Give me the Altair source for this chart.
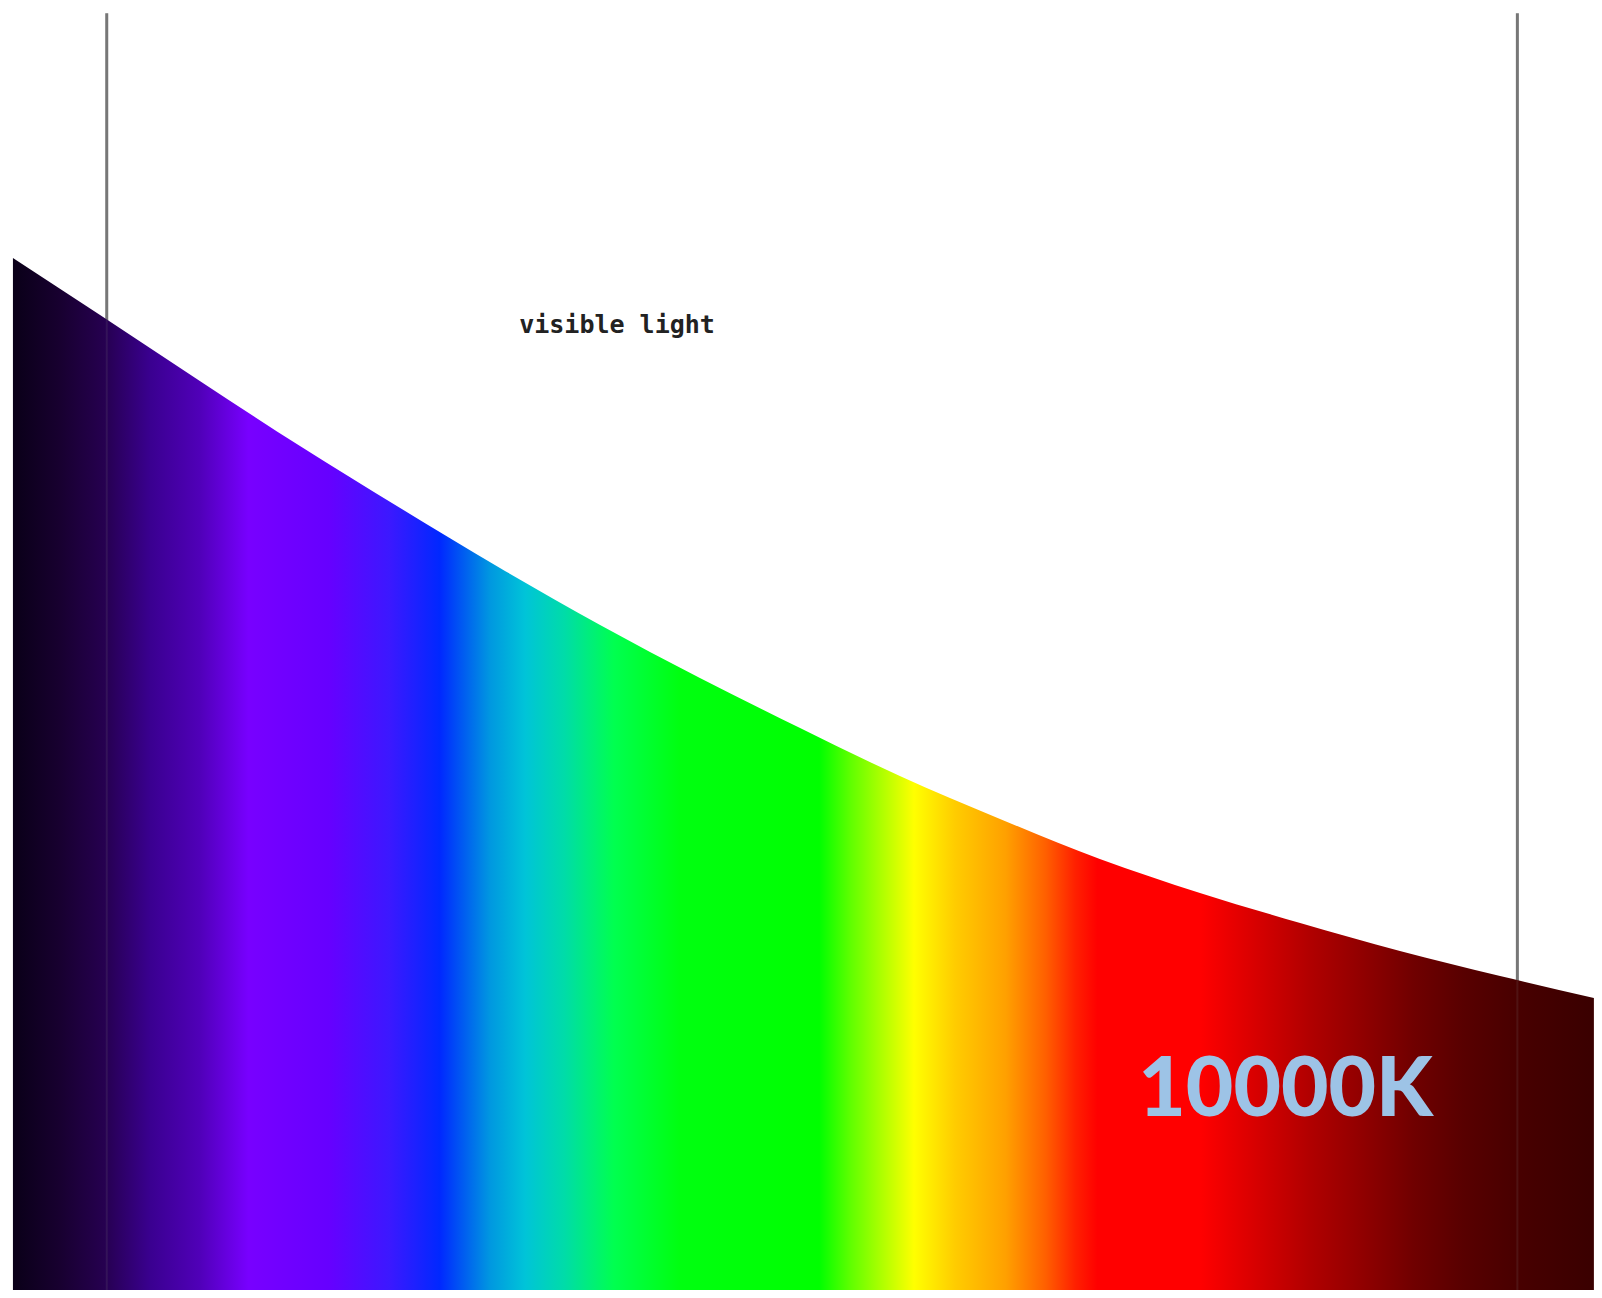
import altair as alt
import pandas as pd

# Spectral curve (relative intensity)
wavelength = [353.4, 378.1, 406.4, 434.8, 463.2, 491.5, 519.9, 548.2, 576.6, 604.9,
              633.3, 661.6, 690.0, 718.4, 746.7, 775.1, 801.7]
intensity = [80.5, 76.05, 70.9, 65.83, 61.0, 56.32, 51.87, 47.74, 43.84, 40.09,
             36.74, 33.62, 30.97, 28.63, 26.44, 24.49, 22.78]

# Boundaries of visible light (nm)
bounds = [380, 780]
bound_top = 99.6

# Labels
label_text = ["visible light"]
label_x = [524.7]
label_y = [75.3]
temp_text = ["10000K"]
temp_x = [714.3]
temp_y = [13.6]

curve = pd.DataFrame({"w": wavelength, "v": intensity})
lines = pd.DataFrame({"w": bounds, "top": [bound_top] * len(bounds), "bottom": [0] * len(bounds)})
lab = pd.DataFrame({"w": label_x, "v": label_y, "t": label_text})
temp = pd.DataFrame({"w": temp_x, "v": temp_y, "t": temp_text})

xs = alt.Scale(domain=[352, 801.73], nice=False, zero=False)
ys = alt.Scale(domain=[0, 100], nice=False, zero=True)
X = lambda f: alt.X(f, type="quantitative", scale=xs, axis=None)
Y = lambda f: alt.Y(f, type="quantitative", scale=ys, axis=None)

stops = [
    (0.000, "#0a0018"), (0.030, "#180030"), (0.058, "#260050"), (0.087, "#3a0090"),
    (0.118, "#5000b8"), (0.149, "#7800ff"), (0.200, "#6600ff"), (0.238, "#3c18ff"),
    (0.270, "#0028ff"), (0.302, "#0098e0"), (0.324, "#00c4d8"), (0.349, "#00dca8"),
    (0.380, "#00ff50"), (0.422, "#00ff10"), (0.510, "#00ff00"), (0.530, "#60ff00"),
    (0.548, "#a8ff00"), (0.570, "#ffff00"), (0.596, "#ffcc00"), (0.628, "#ffa000"),
    (0.653, "#ff6000"), (0.672, "#ff2000"), (0.686, "#ff0000"), (0.751, "#ff0000"),
    (0.789, "#d40000"), (0.821, "#b00000"), (0.854, "#900000"), (0.886, "#700000"),
    (0.918, "#580000"), (0.951, "#480000"), (1.000, "#3a0000"),
]
grad = alt.LinearGradient(
    gradient="linear",
    stops=[alt.GradientStop(offset=o, color=c) for o, c in stops],
    x1=0, x2=1, y1=0, y2=0,
)

rules_back = alt.Chart(lines).mark_rule(color="#767676", strokeWidth=3, clip=False).encode(
    x=X("w"), y=Y("top"), y2="bottom"
)
area = alt.Chart(curve).mark_area(fill=grad, interpolate="monotone").encode(
    x=X("w"), y=Y("v")
)
rules_front = alt.Chart(lines).mark_rule(color="#808080", strokeWidth=2, opacity=0.15).encode(
    x=X("w"), y=Y("top"), y2="bottom"
)
t1 = alt.Chart(lab).mark_text(
    font="DejaVu Sans Mono", fontSize=25, fontWeight="bold",
    color="#222222", align="center", baseline="middle"
).encode(x=X("w"), y=Y("v"), text="t")
t2 = alt.Chart(temp).mark_text(
    font="Lato", fontSize=82, fontWeight=900, color="#9dc3e6",
    align="center", baseline="alphabetic"
).encode(x=X("w"), y=Y("v"), text="t")

chart = alt.layer(rules_back, area, rules_front, t1, t2).properties(
    width=1586, height=1282, padding=0, autosize=alt.AutoSizeParams(type="none"),
    background="white",
).configure_view(stroke=None)

chart.save("out.html", embed_options={"renderer": "svg", "actions": False})
